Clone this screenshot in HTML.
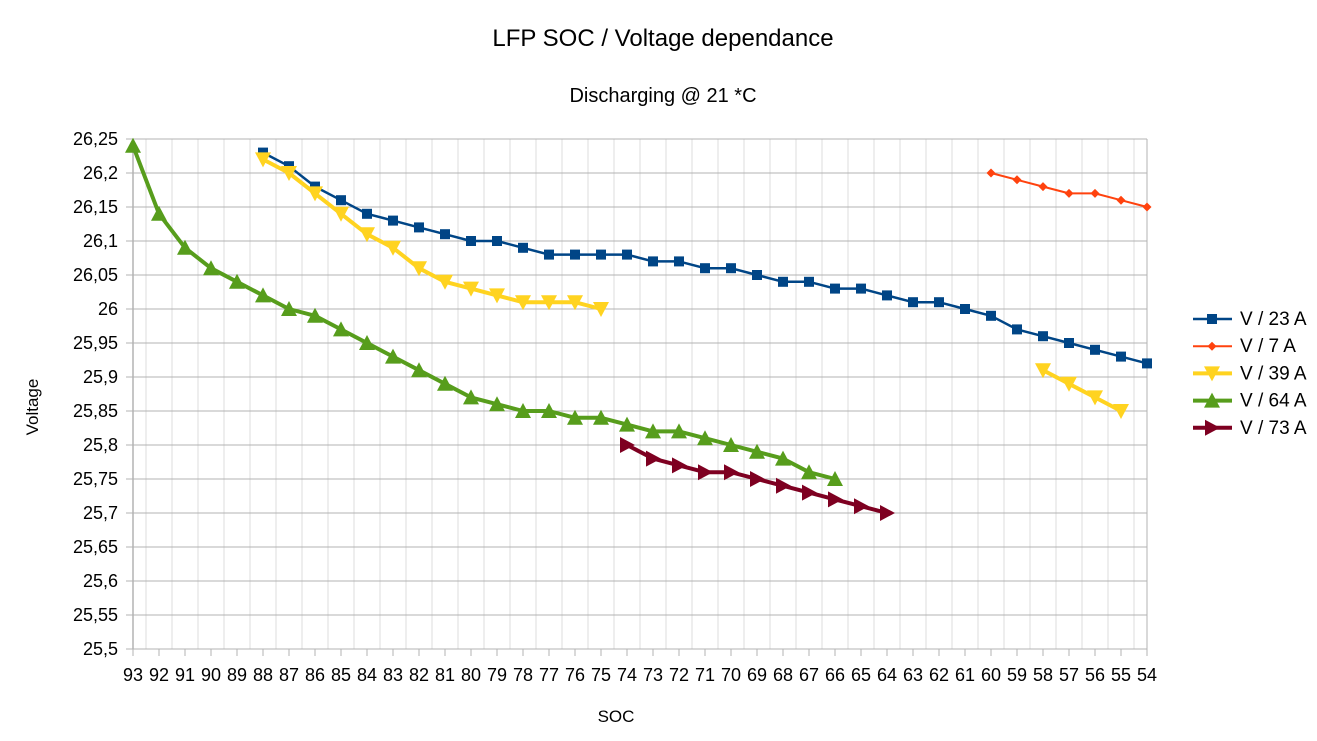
<!DOCTYPE html>
<html><head><meta charset="utf-8"><style>
html,body{margin:0;padding:0;background:#fff;}
svg{display:block;font-family:"Liberation Sans",sans-serif;}
</style></head><body>
<svg id="c" width="1317" height="741" xmlns="http://www.w3.org/2000/svg">
<rect width="1317" height="741" fill="#fff"/>
<text x="663" y="46" font-size="24" text-anchor="middle">LFP SOC / Voltage dependance</text>
<text x="663" y="102" font-size="20" text-anchor="middle">Discharging @ 21 *C</text>
<text x="38" y="407" font-size="17" text-anchor="middle" transform="rotate(-90 38 407)">Voltage</text>
<text x="616" y="722" font-size="17" text-anchor="middle">SOC</text>
<g id="g"></g>
</svg>
<script>
var NS="http://www.w3.org/2000/svg",g=document.getElementById('g');
function el(t,a,txt){var e=document.createElementNS(NS,t);for(var k in a)e.setAttribute(k,a[k]);if(txt!=null)e.textContent=txt;g.appendChild(e);return e;}
function X(s){return 133+(93-s)*26;}
function Y(v){return 139+(26.25-v)*680;}
for(var i=0;i<39;i++){var x=146+i*26;el('line',{x1:x,x2:x,y1:139,y2:649,stroke:'#dddddd','stroke-width':1});}
el('line',{x1:1147,x2:1147,y1:139,y2:649,stroke:'#b3b3b3','stroke-width':1});
for(var j=0;j<=15;j++){var y=139+j*34;el('line',{x1:126,x2:1147,y1:y,y2:y,stroke:'#b3b3b3','stroke-width':1});
 var v=(26.25-j*0.05);var s=(Math.round(v*100)/100).toString().replace('.',',');
 el('text',{x:118,y:y+6,'font-size':18,'text-anchor':'end'},s);}
el('line',{x1:133,x2:133,y1:139,y2:649,stroke:'#b3b3b3','stroke-width':1.5});
for(var s2=93;s2>=54;s2--){var x=X(s2);el('line',{x1:x,x2:x,y1:649,y2:656,stroke:'#b3b3b3'});
 el('text',{x:x,y:681,'font-size':18,'text-anchor':'middle'},s2);}
function mk(type,x,y,c){
 if(type=='sq')el('rect',{x:x-5,y:y-5,width:10,height:10,fill:c});
 else if(type=='di')el('polygon',{points:(x)+','+(y-4.5)+' '+(x+4.5)+','+y+' '+x+','+(y+4.5)+' '+(x-4.5)+','+y,fill:c});
 else if(type=='dn')el('polygon',{points:(x-8)+','+(y-7)+' '+(x+8)+','+(y-7)+' '+x+','+(y+8),fill:c});
 else if(type=='up')el('polygon',{points:(x-8)+','+(y+7)+' '+(x+8)+','+(y+7)+' '+x+','+(y-8),fill:c});
 else if(type=='rt')el('polygon',{points:(x-7)+','+(y-8)+' '+(x-7)+','+(y+8)+' '+(x+8)+','+y,fill:c});
}
function series(start,vals,c,w,type){
 var pts=vals.map(function(v,i){return X(start-i)+','+Y(v);}).join(' ');
 el('polyline',{points:pts,fill:'none',stroke:c,'stroke-width':w,'stroke-linejoin':'round'});
 vals.forEach(function(v,i){mk(type,X(start-i),Y(v),c);});
}
series(88,[26.23,26.21,26.18,26.16,26.14,26.13,26.12,26.11,26.10,26.10,26.09,26.08,26.08,26.08,26.08,26.07,26.07,26.06,26.06,26.05,26.04,26.04,26.03,26.03,26.02,26.01,26.01,26.00,25.99,25.97,25.96,25.95,25.94,25.93,25.92],'#004586',2.5,'sq');
series(60,[26.20,26.19,26.18,26.17,26.17,26.16,26.15],'#ff420e',2,'di');
series(88,[26.22,26.20,26.17,26.14,26.11,26.09,26.06,26.04,26.03,26.02,26.01,26.01,26.01,26.00],'#ffd320',4,'dn');
series(58,[25.91,25.89,25.87,25.85],'#ffd320',4,'dn');
series(93,[26.24,26.14,26.09,26.06,26.04,26.02,26.00,25.99,25.97,25.95,25.93,25.91,25.89,25.87,25.86,25.85,25.85,25.84,25.84,25.83,25.82,25.82,25.81,25.80,25.79,25.78,25.76,25.75],'#579d1c',4,'up');
series(74,[25.80,25.78,25.77,25.76,25.76,25.75,25.74,25.73,25.72,25.71,25.70],'#7e0021',4,'rt');
var L=[['V / 23 A','#004586',2.5,'sq'],['V / 7 A','#ff420e',2,'di'],['V / 39 A','#ffd320',4,'dn'],['V / 64 A','#579d1c',4,'up'],['V / 73 A','#7e0021',4,'rt']];
L.forEach(function(l,i){var y=319+i*27.2;el('line',{x1:1193,x2:1232,y1:y,y2:y,stroke:l[1],'stroke-width':l[2]});mk(l[3],1212,y,l[1]);
 el('text',{x:1240,y:y+6,'font-size':19},l[0]);});
</script>
</body></html>
